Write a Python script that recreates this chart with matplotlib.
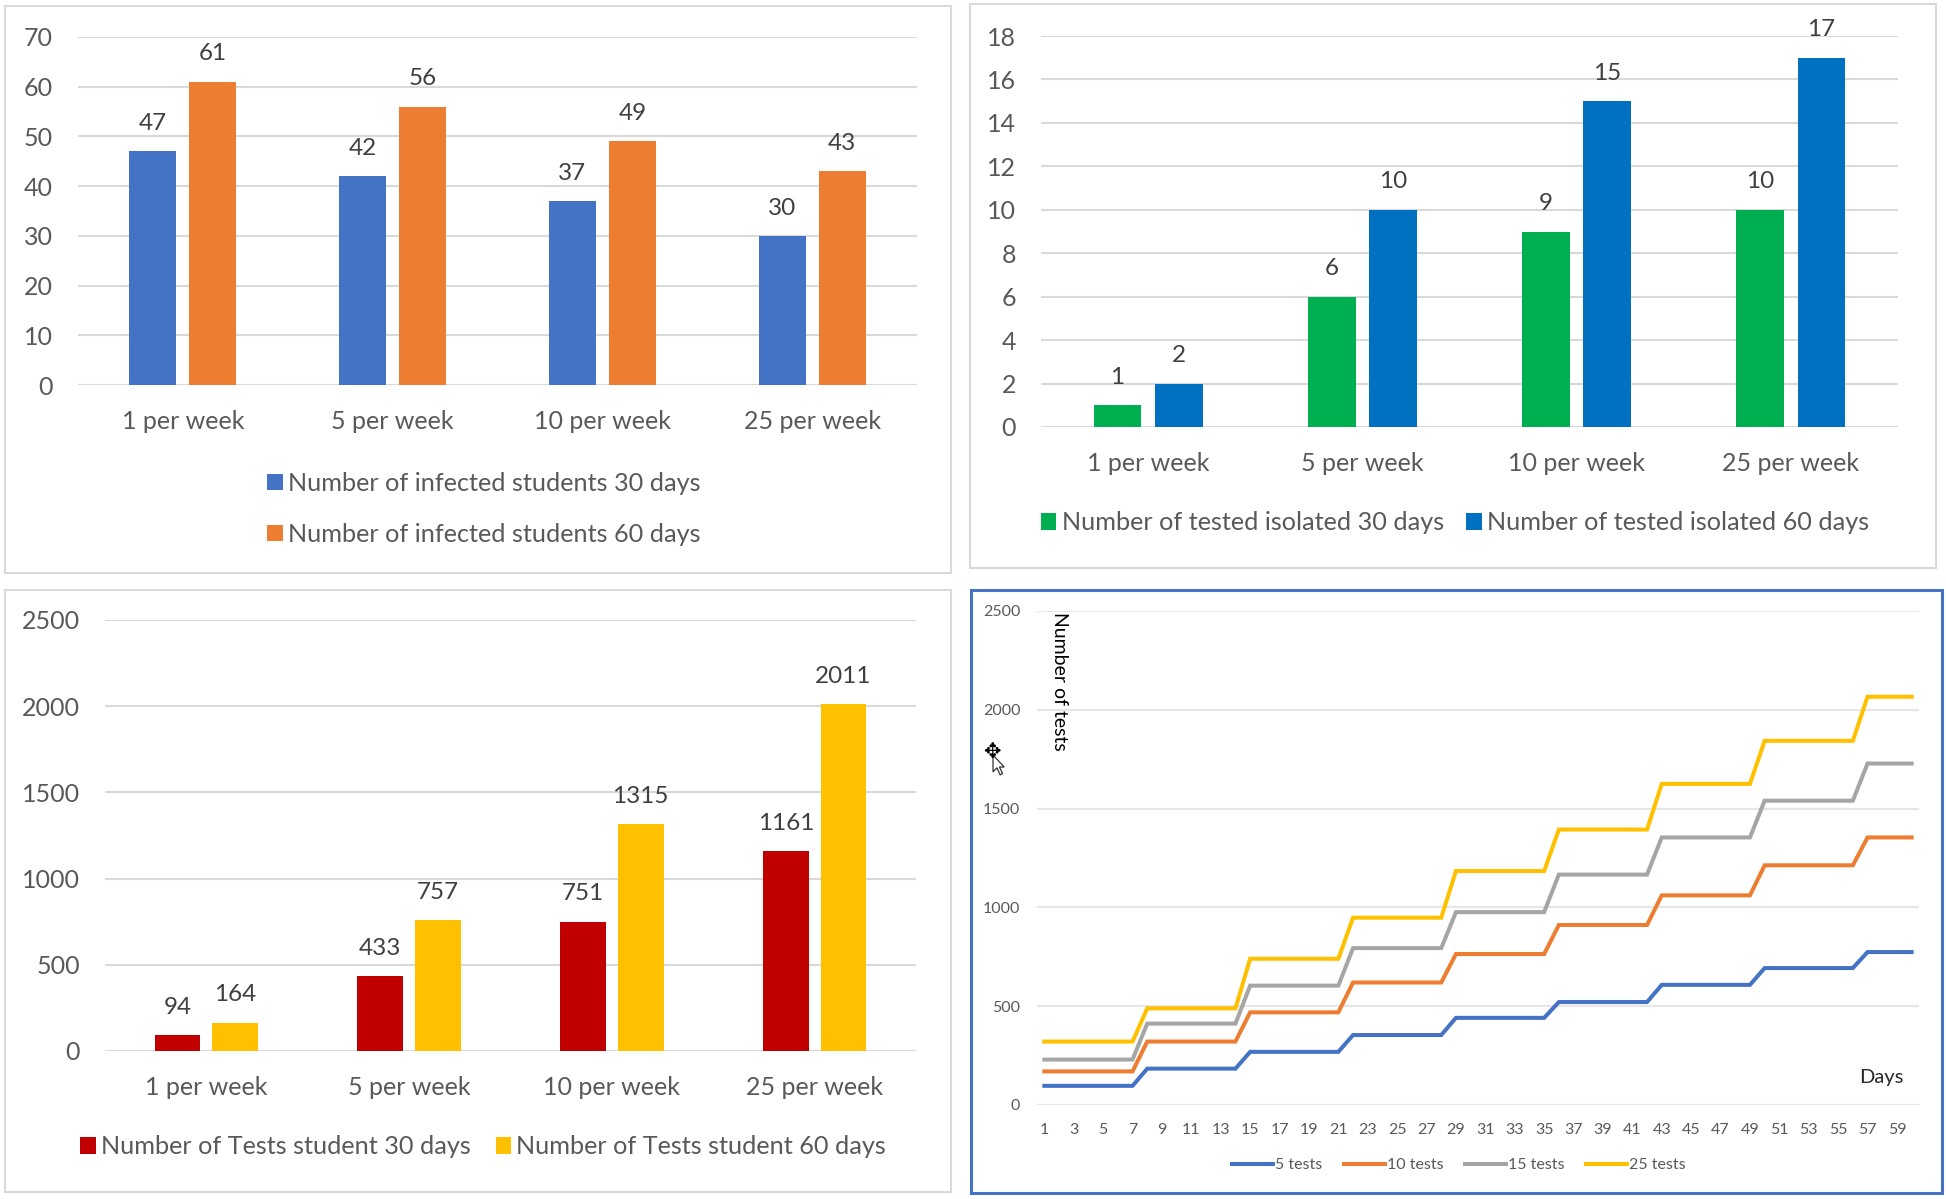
import numpy as np
import matplotlib
matplotlib.use('Agg')
import matplotlib.pyplot as plt
from matplotlib.patches import Rectangle, Polygon
from matplotlib.transforms import Affine2D

W, H = 1946, 1199
plt.rcParams['font.family'] = ['Lato', 'DejaVu Sans']

rates = ['1 per week', '5 per week', '10 per week', '25 per week']

infected_30 = [47, 42, 37, 30]
infected_60 = [61, 56, 49, 43]
isolated_30 = [1, 6, 9, 10]
isolated_60 = [2, 10, 15, 17]
tests_30 = [94, 433, 751, 1161]
tests_60 = [164, 757, 1315, 2011]

days = list(range(1, 61))
day_ticks = list(range(1, 60, 2))
# level of each weekly step, one value per 7 days (last step has 4 days)
week_days = [7, 7, 7, 7, 7, 7, 7, 7, 4]
tests_5 = [97, 184, 269, 354, 441, 521, 608, 693, 774]
tests_10 = [170, 321, 469, 620, 764, 911, 1061, 1213, 1354]
tests_15 = [230, 412, 604, 794, 976, 1166, 1354, 1540, 1728]
tests_25 = [321, 489, 740, 948, 1184, 1394, 1625, 1843, 2066]

GREY = '#595959'
GRID = '#D9D9D9'

fig = plt.figure(figsize=(W / 100, H / 100), dpi=100, facecolor='white')


def make_axes(left, top, right, bottom):
    ax = fig.add_axes([left / W, 1 - bottom / H, (right - left) / W, (bottom - top) / H])
    for s in ax.spines.values():
        s.set_visible(False)
    ax.set_axisbelow(True)
    return ax


def frame(left, top, right, bottom, color=GRID, lw=1.5):
    fig.add_artist(Rectangle((left / W, 1 - bottom / H), (right - left) / W, (bottom - top) / H,
                             transform=fig.transFigure, fill=False, edgecolor=color, linewidth=lw))


def bar_panel(box, vals_a, vals_b, col_a, col_b, name_a, name_b, ymax, step, width, off, pad, leg):
    ax = make_axes(*box)
    x = np.arange(len(rates))
    bars_a = ax.bar(x - off, vals_a, width, color=col_a, label=name_a, zorder=3)
    bars_b = ax.bar(x + off, vals_b, width, color=col_b, label=name_b, zorder=3)
    for bars, vals in ((bars_a, vals_a), (bars_b, vals_b)):
        for b, v in zip(bars, vals):
            ax.annotate(str(v), (b.get_x() + b.get_width() / 2, v), xytext=(0, 20),
                        textcoords='offset points', ha='center', va='center',
                        fontsize=17.5, color='#404040')
    ax.set_xlim(-0.5, 3.5)
    ax.set_ylim(0, ymax)
    ax.set_yticks(np.arange(0, ymax + 1, step))
    ax.set_xticks(x)
    ax.set_xticklabels(rates)
    ax.grid(axis='y', color=GRID, linewidth=1.5)
    ax.tick_params(axis='y', length=0, pad=pad, labelsize=18, labelcolor=GREY)
    ax.tick_params(axis='x', length=0, pad=18, labelsize=18, labelcolor=GREY)
    ax.axhline(0, color=GRID, linewidth=1.5, zorder=2)
    ax.legend(loc='center', bbox_to_anchor=(leg[0] / W, 1 - leg[1] / H),
              bbox_transform=fig.transFigure, ncol=leg[2], frameon=False, fontsize=18.2,
              labelcolor=GREY, handlelength=0.62, handleheight=0.62, handletextpad=0.2,
              columnspacing=leg[3], labelspacing=leg[4], borderpad=0)
    return ax


frame(5, 6, 951, 573)
frame(970, 4, 1936, 568)
frame(5, 590, 951, 1192)
frame(971, 590, 1942, 1193, color='#4472C4', lw=2.2)

bar_panel((78, 37, 917, 385), infected_30, infected_60, '#4472C4', '#ED7D31',
          'Number of infected students 30 days', 'Number of infected students 60 days',
          70, 10, 0.224, 0.143, 18, (484, 509, 1, 1, 1.1))
bar_panel((1041, 36, 1898, 427), isolated_30, isolated_60, '#00B050', '#0070C0',
          'Number of tested isolated 30 days', 'Number of tested isolated 60 days',
          18, 2, 0.222, 0.143, 18, (1455, 523, 2, 0.9, 0))
bar_panel((105, 620, 916, 1051), tests_30, tests_60, '#C00000', '#FFC000',
          'Number of Tests student 30 days', 'Number of Tests student 60 days',
          2500, 500, 0.226, 0.142, 18, (483, 1147, 2, 1.0, 0))

# line chart, bottom right
ax = make_axes(1037, 611, 1919, 1105)
series = [(tests_5, '#4472C4', '5 tests'), (tests_10, '#ED7D31', '10 tests'),
          (tests_15, '#A5A5A5', '15 tests'), (tests_25, '#FFC000', '25 tests')]
for levels, col, name in series:
    ax.plot(days, np.repeat(levels, week_days), color=col, linewidth=2.9, label=name,
            solid_joinstyle='miter', zorder=3)
ax.set_xlim(0.5, 60.5)
ax.set_ylim(0, 2500)
ax.set_yticks(np.arange(0, 2501, 500))
ax.set_xticks(day_ticks)
ax.grid(axis='y', color='#E6E6E6', linewidth=1.5)
ax.tick_params(axis='y', length=0, pad=12, labelsize=11.5, labelcolor=GREY)
ax.tick_params(axis='x', length=0, pad=13, labelsize=11.5, labelcolor=GREY)
ax.legend(loc='center', bbox_to_anchor=(1459 / W, 1 - 1165 / H), bbox_transform=fig.transFigure,
          ncol=4, frameon=False, fontsize=11.5, labelcolor=GREY, handlelength=2.55,
          handletextpad=0.15, columnspacing=1.35, borderpad=0)
fig.text(1060 / W, 1 - 681 / H, 'Number of tests', rotation=-90, ha='center', va='center',
         fontsize=14, color='black')
fig.text(1881 / W, 1 - 1077 / H, 'Days', ha='center', va='center', fontsize=14.5, color='#262626')

# the stray mouse pointer in the screenshot
fig.text(992 / W, 1 - 752 / H, '\u2725', ha='center', va='center', fontsize=15, color='black',
         family='DejaVu Sans')
arrow = np.array([(0, 0), (0, 21), (5, 16), (9, 25), (12, 23), (8, 15), (14, 15)], dtype=float)
px = Affine2D().scale(0.8, -0.8).translate(993, H - 755)
fig.add_artist(Polygon(arrow, closed=True, facecolor='white', edgecolor='#333333', linewidth=0.9,
                       transform=px))

fig.savefig('out.png', dpi=100, facecolor='white')
